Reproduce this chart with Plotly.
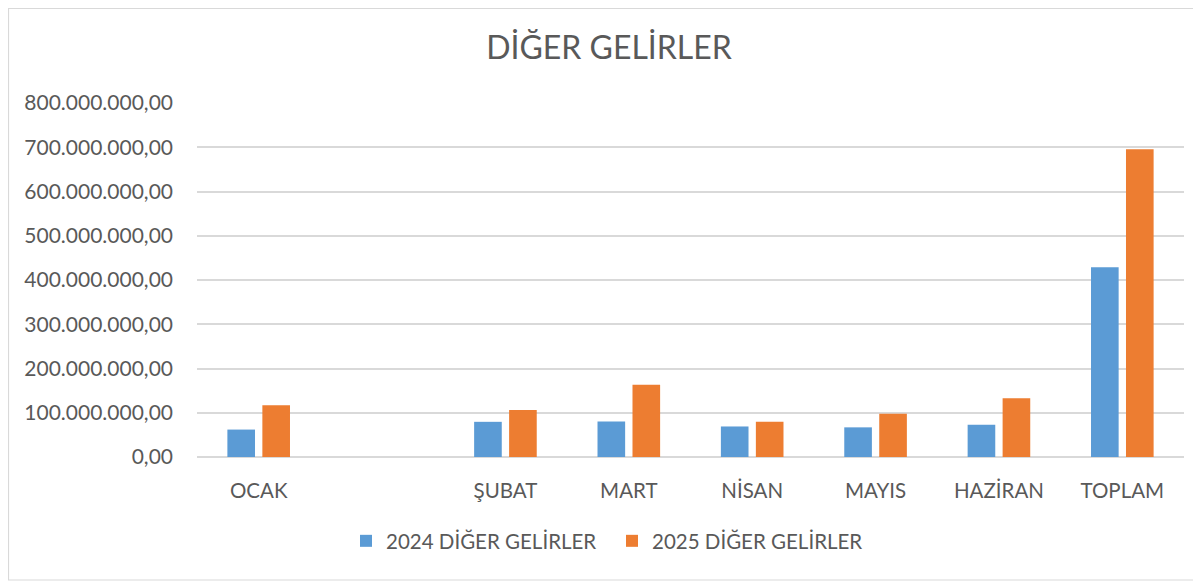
import plotly.graph_objects as go

categories = ["OCAK", " ", "ŞUBAT", "MART", "NİSAN", "MAYIS", "HAZİRAN", "TOPLAM"]
values_2024 = [62e6, None, 79.5e6, 80e6, 69e6, 67e6, 73e6, 429e6]
values_2025 = [117e6, None, 106e6, 163.5e6, 79.5e6, 98e6, 133e6, 695.5e6]
series_names = ["2024 DİĞER GELİRLER", "2025 DİĞER GELİRLER"]
y_ticks = [0, 100e6, 200e6, 300e6, 400e6, 500e6, 600e6, 700e6, 800e6]

# page body has an 8px margin; work in absolute window pixels and convert
OFF = 8
W, H = 1201 - OFF, 582 - OFF
PL, PR, PT, PB = 197, 1184, 103, 457  # plot area in window px
ML, MR, MT = PL - OFF, W - (PR - OFF), PT - OFF
MB = H - (PB - OFF)
pw, ph = W - ML - MR, H - MT - MB
font_family = "Lato, 'Open Sans', sans-serif"
txt = "#595959"

fig = go.Figure()
fig.add_trace(go.Bar(x=categories, y=values_2024, name=series_names[0],
                     legend="legend", showlegend=True,
                     marker=dict(color="#5B9BD5", line=dict(width=0))))
fig.add_trace(go.Bar(x=categories, y=values_2025, name=series_names[1],
                     legend="legend2", showlegend=True,
                     marker=dict(color="#ED7D31", line=dict(width=0))))

def px_x(p):
    return (p - OFF - ML) / pw

def px_y(p):
    return (H - MB - (p - OFF)) / ph

leg_common = dict(orientation="h", xref="container", xanchor="left",
                  y=1 - (541 - OFF) / H, yref="container", yanchor="middle",
                  font=dict(size=20.5, color=txt), itemwidth=30, visible=True)

fig.update_layout(
    width=W, height=H,
    showlegend=True,
    margin=dict(l=ML, r=MR, t=MT, b=MB),
    paper_bgcolor="white", plot_bgcolor="white",
    separators=",.",
    barmode="group", bargap=0.433, bargroupgap=0.21,
    font=dict(family=font_family, color=txt, size=21),
    title=dict(text="DİĞER GELİRLER", x=(609 - OFF) / W, xref="container", xanchor="center",
               y=1 - (48 - OFF) / H, yref="container", yanchor="middle",
               font=dict(size=32, color=txt, family=font_family)),
    legend=dict(x=(346 - OFF) / W, **leg_common),
    legend2=dict(x=(612 - OFF) / W, **leg_common),
    xaxis=dict(type="category", categoryorder="array", categoryarray=categories,
               showgrid=False, showline=False, zeroline=False,
               ticks="", ticklabelstandoff=19,
               tickfont=dict(size=20.5, color=txt)),
    yaxis=dict(range=[0, 800e6], tickvals=y_ticks, tickformat=",.2f",
               showgrid=True, gridcolor="#d9d9d9", gridwidth=1.5,
               zeroline=True, zerolinecolor="#d9d9d9", zerolinewidth=1.5,
               showline=False, ticks="", ticklabelstandoff=23,
               tickfont=dict(size=21, color=txt)),
    shapes=[dict(type="rect", xref="paper", yref="paper",
                 x0=px_x(OFF + 0.5), x1=px_x(1199), y0=px_y(580), y1=px_y(OFF + 0.5),
                 line=dict(color="#d9d9d9", width=1.2), fillcolor="rgba(0,0,0,0)",
                 layer="below")],
)

fig.write_html("out.html")
